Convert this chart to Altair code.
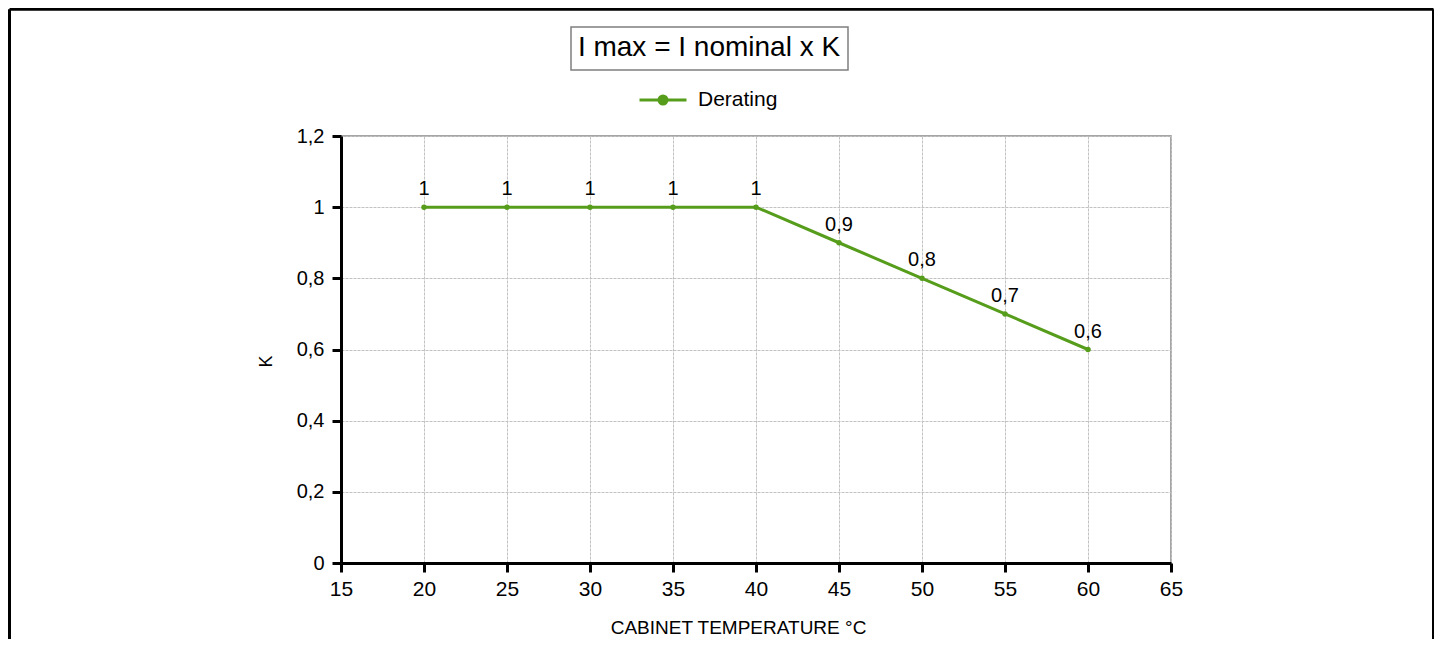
import altair as alt
import pandas as pd

# ---- data ----
temperature = [20, 25, 30, 35, 40, 45, 50, 55, 60]
k_factor = [1, 1, 1, 1, 1, 0.9, 0.8, 0.7, 0.6]
series_name = "Derating"
x_ticks = [15, 20, 25, 30, 35, 40, 45, 50, 55, 60, 65]
y_ticks = [0, 0.2, 0.4, 0.6, 0.8, 1, 1.2]
title_text = "I max = I nominal x K"
x_title = "CABINET TEMPERATURE °C"
y_title = "K"

GREEN = "#579d1c"
FONT = "Liberation Sans"

df = pd.DataFrame({"T": temperature, "K": k_factor, "series": series_name})
one = pd.DataFrame({"t": [title_text]})

W, H = 830, 427

legend_symbol = "M-1,0H1M0.17,0A0.17,0.17,0,1,1,-0.17,0A0.17,0.17,0,1,1,0.17,0Z"

x_enc = alt.X(
    "T:Q",
    scale=alt.Scale(domain=[15, 65], nice=False, zero=False),
    axis=alt.Axis(values=x_ticks, title=x_title, titlePadding=19, titleX=397,
                  labelFlush=False, labelOverlap=False, labelFontSize=21),
)
y_enc = alt.Y(
    "K:Q",
    scale=alt.Scale(domain=[0, 1.2], nice=False),
    axis=alt.Axis(values=y_ticks, format=".1~f",
                  labelExpr="replace(datum.label, '.', ',')",
                  title=y_title, titleY=225, titlePadding=21, labelOverlap=False),
)

legend = alt.Legend(
    orient="none", legendX=297, legendY=-61, title=None,
    symbolType=legend_symbol, symbolSize=2209, symbolStrokeWidth=3,
    symbolFillColor=GREEN, symbolStrokeColor=GREEN,
    labelFontSize=21, labelOffset=10, labelColor="black", labelFont=FONT,
)

line = alt.Chart(df).mark_line(strokeWidth=3).encode(
    x=x_enc, y=y_enc,
    color=alt.Color("series:N", scale=alt.Scale(domain=[series_name], range=[GREEN]), legend=legend),
)
points = alt.Chart(df).mark_point(filled=True, size=30, opacity=1, color=GREEN).encode(
    x="T:Q", y="K:Q"
)
labels = alt.Chart(df).transform_calculate(
    lbl="replace(format(datum.K, '.1~f'), '.', ',')"
).mark_text(dy=-18, fontSize=20, color="black", font=FONT).encode(
    x="T:Q", y="K:Q", text="lbl:N"
)

# title box
box = alt.Chart(one).mark_rect(fill="white", stroke="#7f7f7f", strokeWidth=1.5).encode(
    x=alt.value(230), x2=alt.value(507), y=alt.value(-109), y2=alt.value(-66)
)
title = alt.Chart(one).mark_text(fontSize=28, color="black", font=FONT).encode(
    x=alt.value(368), y=alt.value(-88), text="t:N"
)

# outer frame
frame_top = alt.Chart(one).mark_rule(color="black", strokeWidth=3).encode(
    x=alt.value(-331.5), x2=alt.value(1092.5), y=alt.value(-126.7), y2=alt.value(-126.7)
)
frame_left = alt.Chart(one).mark_rule(color="black", strokeWidth=3).encode(
    x=alt.value(-331.5), y=alt.value(-126.7), y2=alt.value(510)
)
frame_right = alt.Chart(one).mark_rule(color="black", strokeWidth=3).encode(
    x=alt.value(1092.5), y=alt.value(-126.7), y2=alt.value(510)
)

chart = alt.layer(
    line, frame_top, frame_left, frame_right, box, title, points, labels
).properties(
    width=W, height=H,
    padding={"left": 333, "top": 128, "right": 263, "bottom": 76},
    autosize=alt.AutoSizeParams(type="none"),
).configure(
    font=FONT
).configure_axis(
    domainColor="black", domainWidth=3, tickColor="black", tickWidth=3, tickSize=9,
    labelFontSize=20, labelColor="black", labelFont=FONT, labelPadding=6,
    titleFontSize=19, titleFontWeight="normal", titleColor="black", titleFont=FONT,
    gridColor="#c2c2c2", gridWidth=1, gridDash=[3, 1],
).configure_axisY(
    labelPadding=8, titleFontSize=18
).configure_legend(
    padding=0
).configure_view(
    stroke="#888888", strokeWidth=1.5
)

chart.save("out.html", embed_options={"renderer": "svg", "actions": False})
